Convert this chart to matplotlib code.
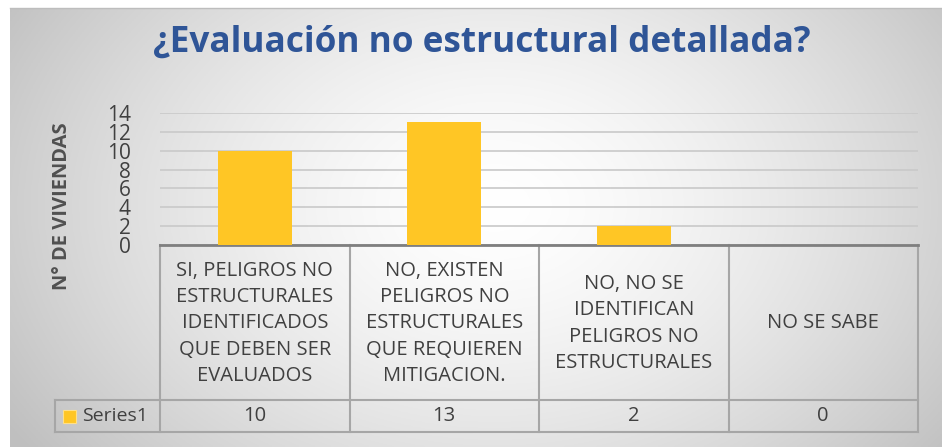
import numpy as np
import matplotlib
matplotlib.use("Agg")
import matplotlib.pyplot as plt
from matplotlib.patches import Rectangle

plt.rcParams['font.family'] = ['Open Sans', 'DejaVu Sans']

# data
categories = [
    "SI, PELIGROS NO\nESTRUCTURALES\nIDENTIFICADOS\nQUE DEBEN SER\nEVALUADOS",
    "NO, EXISTEN\nPELIGROS NO\nESTRUCTURALES\nQUE REQUIEREN\nMITIGACION.",
    "NO, NO SE\nIDENTIFICAN\nPELIGROS NO\nESTRUCTURALES",
    "NO SE SABE",
]
values = [10, 13, 2, 0]
series_name = "Series1"
yticks = [0, 2, 4, 6, 8, 10, 12, 14]

W, H = 942, 447
bar_color = "#FFC625"
grid_color = "#c9c9c9"
table_color = "#a6a6a6"
text_color = "#404040"

fig = plt.figure(figsize=(W / 100, H / 100), dpi=100)
fig.patch.set_facecolor("white")

# radial grey background of the chart area
bg = fig.add_axes([10 / W, 0, (W - 10) / W, (H - 8) / H])
gx, gy = np.meshgrid(np.linspace(0, 1, 400), np.linspace(0, 1, 200))
r = np.sqrt(((gx - 0.52) / 0.62) ** 2 + ((gy - 0.45) / 0.95) ** 2)
r = np.clip(r, 0, 1)
shade = 1.0 - 0.25 * r ** 1.5
bg.imshow(np.dstack([shade] * 3), aspect="auto", extent=[0, 1, 0, 1])
bg.set_axis_off()
fig.add_artist(plt.Line2D([10 / W, 1], [(H - 8) / H] * 2, color="#bdbdbd", lw=1))

# plot area
x0, x1, ytop, ybot = 160, 918, 113, 245
ax = fig.add_axes([x0 / W, (H - ybot) / H, (x1 - x0) / W, (ybot - ytop) / H])
ax.set_facecolor("none")
x = np.arange(len(values))
ax.bar(x, values, width=0.39, color=bar_color, zorder=3)
ax.set_xlim(-0.5, len(values) - 0.5)
ax.set_ylim(0, 14)
ax.set_yticks(yticks)
ax.set_yticklabels([str(t) for t in yticks], fontsize=15, color=text_color)
ax.tick_params(axis="y", length=0, pad=21)
ax.set_xticks([])
for s in ["top", "right", "left"]:
    ax.spines[s].set_visible(False)
ax.spines["bottom"].set_color("#7f7f7f")
ax.spines["bottom"].set_linewidth(2)
ax.grid(axis="y", color=grid_color, lw=1.2, zorder=0)

fig.text(62 / W, 1 - 206 / H, "N° DE VIVIENDAS", rotation=90, ha="center",
         va="center", fontsize=14.5, fontweight="bold", color="#505050")

fig.text(482 / W, 1 - 43 / H, "¿Evaluación no estructural detallada?",
         ha="center", va="center", fontsize=25.3, fontweight="bold",
         color="#2F5597")

# data table under the axis
trans = ax.get_xaxis_transform()


def py(ypix):
    return (ybot - ypix) / (ybot - ytop)


row1, row2 = 400, 432
edges = np.arange(len(values) + 1) - 0.5
label_left = (55 - x0) / ((x1 - x0) / len(values)) - 0.5
lk = dict(color=table_color, lw=1.5, transform=trans, clip_on=False)
for e in edges:
    ax.plot([e, e], [py(ybot), py(row2)], **lk)
ax.plot([label_left, edges[-1]], [py(row1)] * 2, **lk)
ax.plot([label_left, edges[-1]], [py(row2)] * 2, **lk)
ax.plot([label_left, label_left], [py(row1), py(row2)], **lk)

for i, (c, v) in enumerate(zip(categories, values)):
    ax.text(i, py((ybot + row1) / 2 + 1), c, transform=trans, ha="center",
            va="center", fontsize=14.5, color=text_color, linespacing=1.42)
    ax.text(i, py((row1 + row2) / 2), str(v), transform=trans, ha="center",
            va="center", fontsize=14.5, color=text_color)

fig.add_artist(Rectangle((63 / W, 1 - 423 / H), 13 / W, 13 / H,
                         facecolor=bar_color, edgecolor="#ffe08a", lw=0.8))
fig.text(82 / W, 1 - 416 / H, series_name, ha="left", va="center",
         fontsize=14, color=text_color)

fig.savefig("out.png", dpi=100)
